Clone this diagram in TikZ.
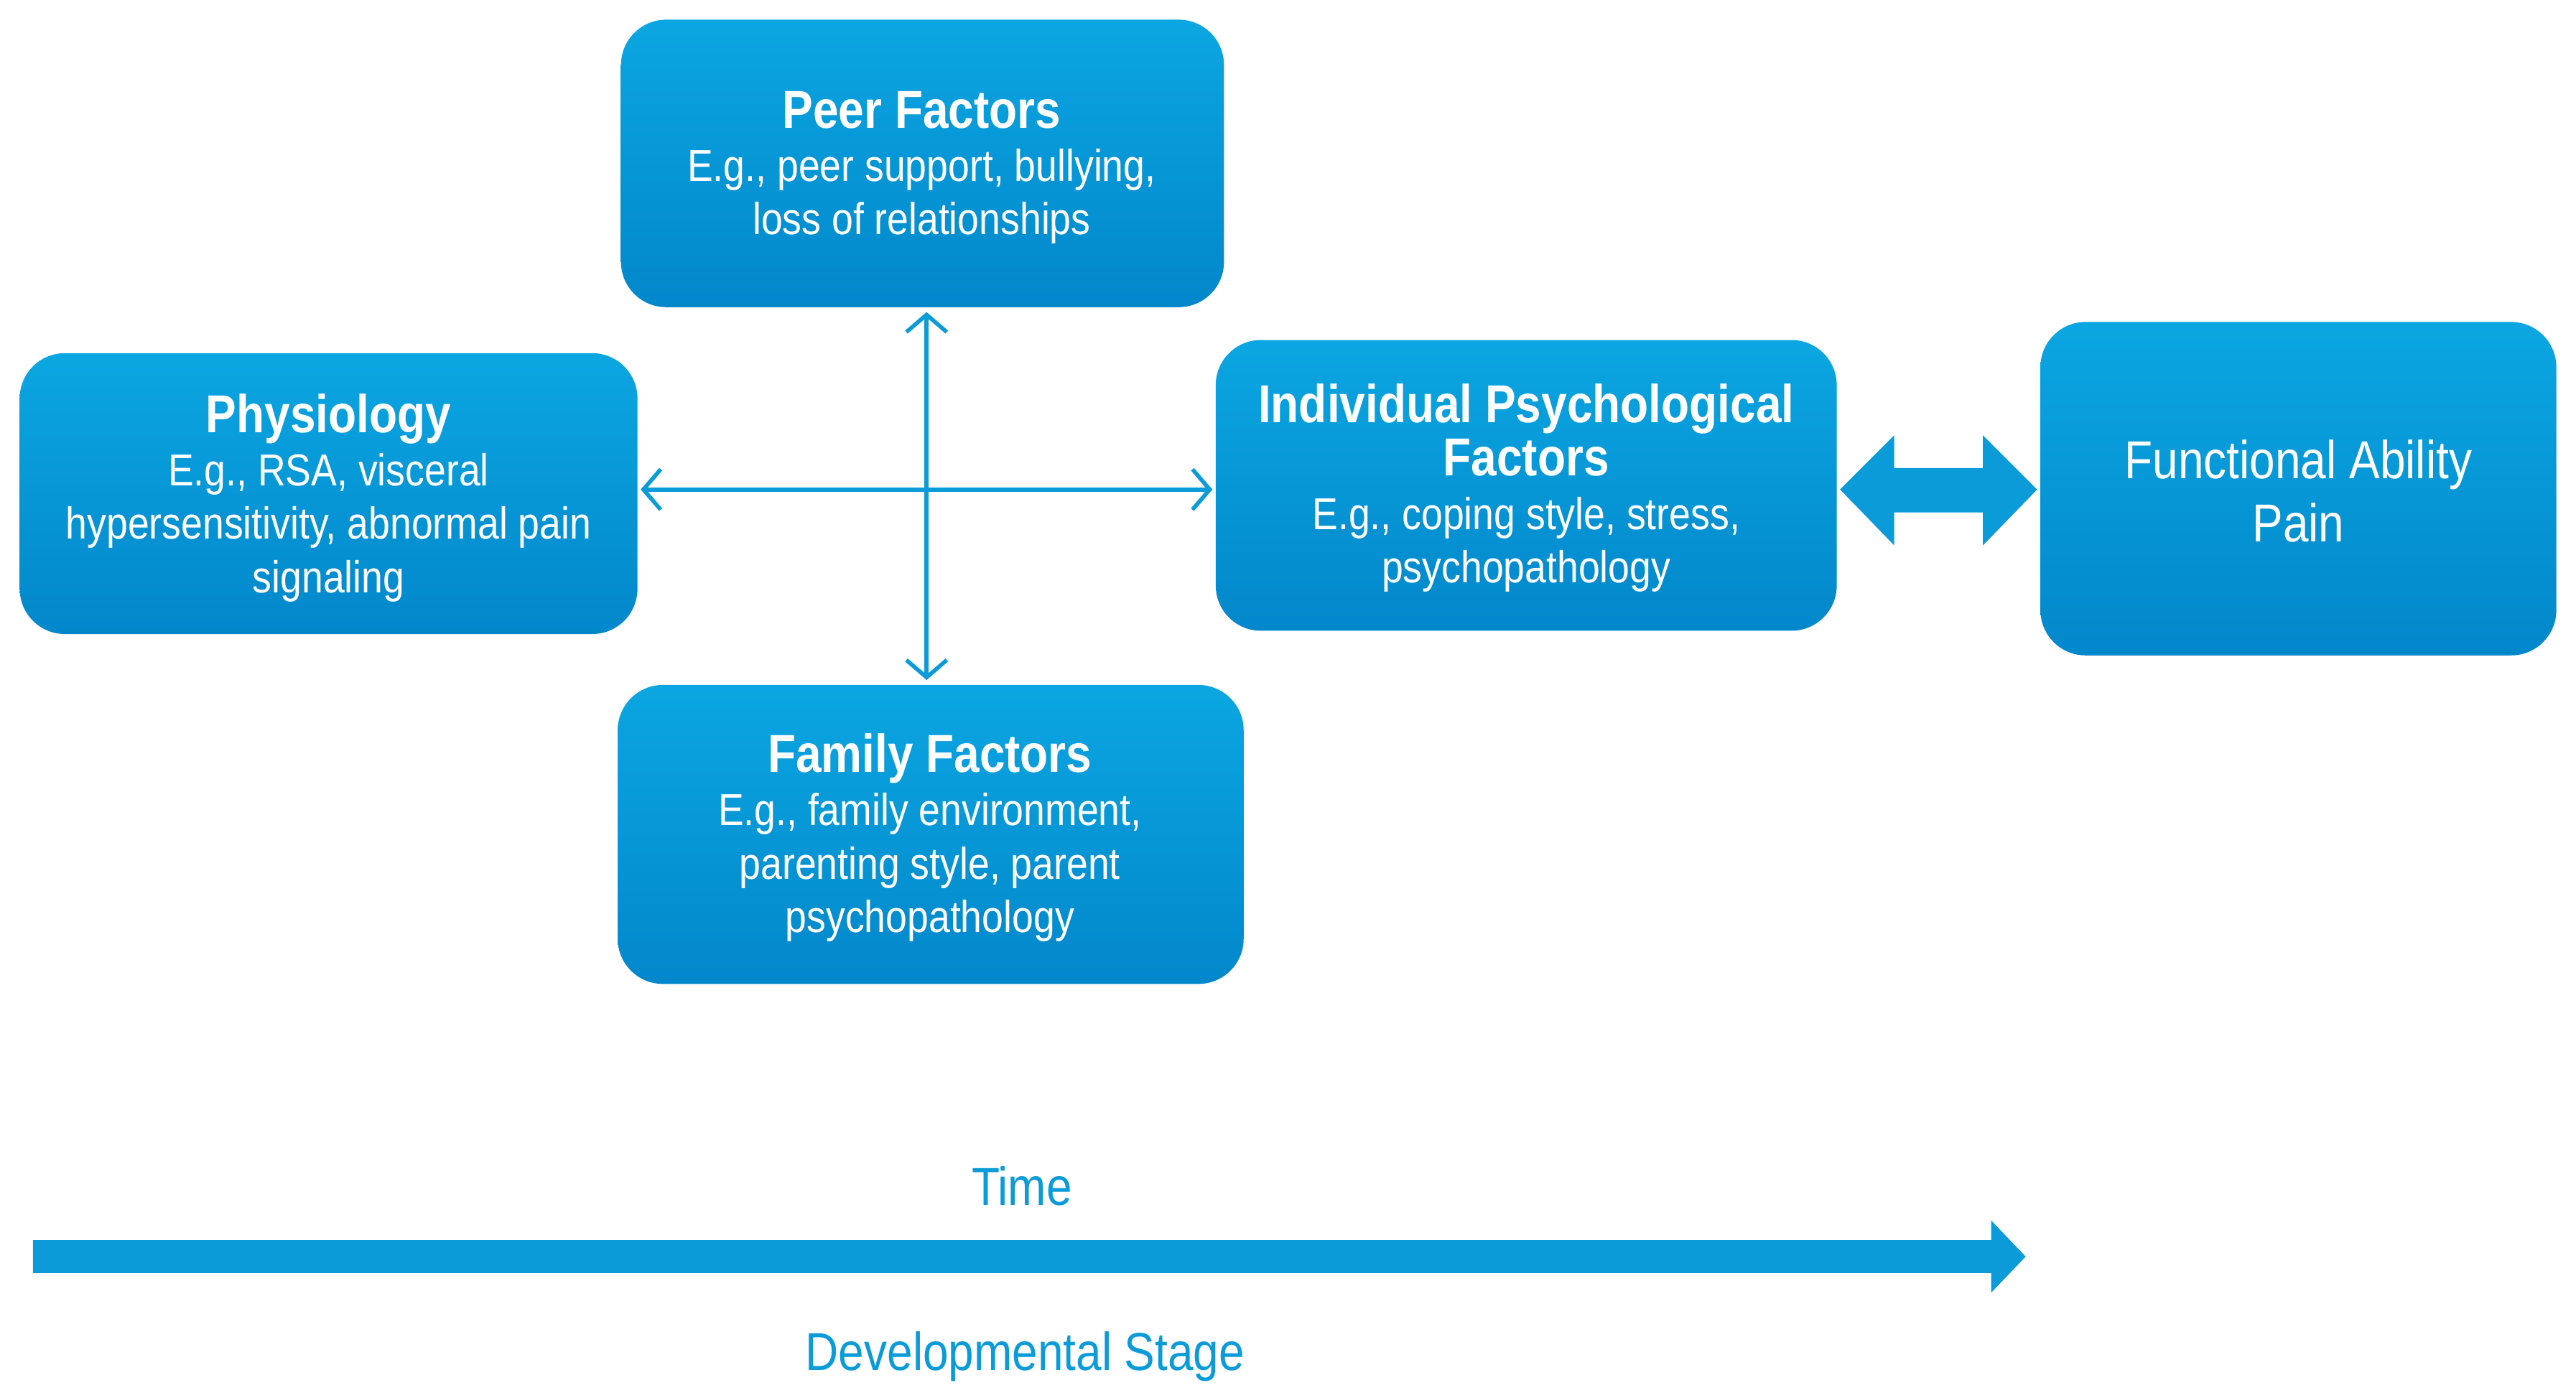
\documentclass[tikz,border=0pt]{standalone}
\usepackage{fontspec}
\setmainfont{Liberation Sans}[FakeStretch=0.86]
\usetikzlibrary{arrows.meta}
\definecolor{btop}{HTML}{0BA6E1}
\definecolor{bbot}{HTML}{0287CB}
\definecolor{arr}{HTML}{0A9BD8}
\newcommand\myttl{\fontsize{18.5}{20}\selectfont\bfseries}
\newcommand\mybod{\fontsize{15.5}{18.5}\selectfont}
\begin{document}
\begin{tikzpicture}[x=0.02cm,y=-0.02cm,
 box/.style={draw=none,rounded corners=0.55cm,top color=btop,bottom color=bbot},
 lbl/.style={text=white,align=center,font=\mybod},
 con/.style={arr,line width=1.4pt,{Straight Barb[length=6pt,width=14pt]}-{Straight Barb[length=6pt,width=14pt]}}]
\useasboundingbox (0,0) rectangle (1568,851);
\path[box] (378,12) rectangle (745,187);
\node[lbl] (peer) at (561,102) {{\myttl Peer Factors}\\E.g., peer support, bullying,\\loss of relationships};
\path[box] (12,215) rectangle (388,386);
\node[lbl] (phys) at (200,303) {{\myttl Physiology}\\E.g., RSA, visceral\\hypersensitivity, abnormal pain\\signaling};
\path[box] (740,207) rectangle (1118,384);
\node[lbl] (ind) at (929,297) {{\myttl Individual Psychological}\\{\myttl Factors}\\E.g., coping style, stress,\\psychopathology};
\path[box] (1242,196) rectangle (1556,399);
\node[lbl,font=\fontsize{18.5}{22}\selectfont] (func) at (1399,299) {Functional Ability\\Pain};
\path[box] (376,417) rectangle (757,599);
\node[lbl] (fam) at (566,510) {{\myttl Family Factors}\\E.g., family environment,\\parenting style, parent\\psychopathology};
\coordinate (vt) at (564,190); \coordinate (vb) at (564,414);
\coordinate (hl) at (390,298); \coordinate (hr) at (738,298);
\draw[con] (vt) -- (vb);
\draw[con] (hl) -- (hr);
\fill[arr] (1120,298) -- (1153,265) -- (1153,285) -- (1207,285) -- (1207,265) -- (1240,298) -- (1207,332) -- (1207,312) -- (1153,312) -- (1153,332) -- cycle;
\fill[arr] (20,755) -- (1212,755) -- (1212,743) -- (1233,765) -- (1212,787) -- (1212,775) -- (20,775) -- cycle;
\node[arr,font=\fontsize{18.5}{20}\selectfont] (time) at (622,722) {Time};
\node[arr,font=\fontsize{18.5}{20}\selectfont] (dev) at (624,826) {Developmental Stage};
\end{tikzpicture}
\end{document}
